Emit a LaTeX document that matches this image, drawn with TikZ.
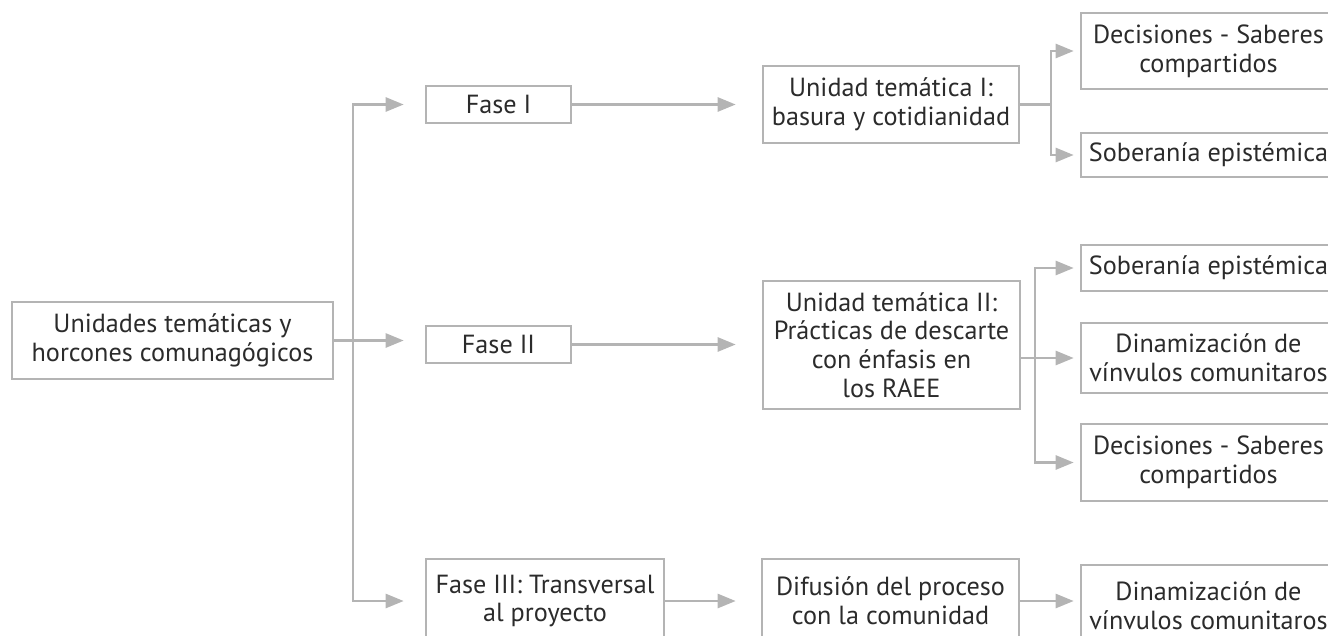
\documentclass[tikz,border=0pt]{standalone}
\usepackage{fontspec}
\setmainfont{PT Sans}
\usetikzlibrary{arrows.meta,calc}
\definecolor{lg}{HTML}{B4B4B4}
\definecolor{tx}{HTML}{2B2B2B}
\tikzset{
  box/.style={draw=lg, line width=2.6pt, text=tx, align=center, inner sep=0pt,
    font=\fontsize{26.2}{28.8}\selectfont},
  conn/.style={draw=lg, line width=2.6pt},
  arr/.style={conn, -{Triangle[length=18pt,width=14pt]}},
  arrs/.style={conn, {Triangle[length=18pt,width=14pt]}-{Triangle[length=18pt,width=14pt]}},
}
\begin{document}
\begin{tikzpicture}[x=1pt,y=-1pt]
\useasboundingbox (0,0) rectangle (1328,635);
\clip (0,0) rectangle (1328,635);
\node[box, minimum width=321pt, minimum height=77pt] (main) at (172.5,340.5) {Unidades temáticas y\\horcones comunagógicos};
\node[box, minimum width=145pt, minimum height=37pt] (fase1) at (498.5,104.5) {Fase I};
\node[box, minimum width=145pt, minimum height=37pt] (fase2) at (498.5,344.5) {Fase II};
\node[box, minimum width=238pt, minimum height=84pt] (fase3) at (545,601) {Fase III: Transversal\\al proyecto};
\node[box, minimum width=256pt, minimum height=77pt] (u1) at (891,104.5) {Unidad temática I:\\basura y cotidianidad};
\node[box, minimum width=257pt, minimum height=128pt] (u2) at (891.5,345) {Unidad temática II:\\Prácticas de descarte\\con énfasis en\\los RAEE};
\node[box, minimum width=257pt, minimum height=84pt] (dif) at (890.5,601) {Difusión del proceso\\con la comunidad};
\node[box, minimum width=255pt, minimum height=76pt] (d1) at (1208.5,51) {Decisiones - Saberes\\compartidos};
\node[box, minimum width=255pt, minimum height=44pt] (s1) at (1208.5,155) {Soberanía epistémica};
\node[box, minimum width=255pt, minimum height=46pt] (s2) at (1208.5,268) {Soberanía epistémica};
\node[box, minimum width=255pt, minimum height=70pt] (din2) at (1208.5,358) {Dinamización de\\vínvulos comunitaros};
\node[box, minimum width=255pt, minimum height=77pt] (d2) at (1208.5,462.5) {Decisiones - Saberes\\compartidos};
\node[box, minimum width=255pt, minimum height=82pt] (din3) at (1208.5,606) {Dinamización de\\vínvulos comunitaros};
\coordinate (vx) at (353,0);
\coordinate (b1) at (1051,0);
\coordinate (b2) at (1035,0);
% left tree
\draw[arr, shorten >=21pt] (main.east) -- (main.east -| fase2.west);
\draw[arrs, shorten <=21pt, shorten >=21pt] (fase1.west) -| (vx |- fase3.west) -- (fase3.west);
% phases to units
\draw[arr, shorten >=26pt] (fase1.east) -- (u1.west);
\draw[arr, shorten >=26pt] (fase2.east) -- (fase2.east -| u2.west);
\draw[arr, shorten >=25pt] (fase3.east) -- (dif.west);
% unit I branch
\draw[conn] (u1.east) -- (u1.east -| b1);
\draw[arrs, shorten <=6pt, shorten >=6pt] (d1.west) -| (b1 |- s1.west) -- (s1.west);
% unit II branch
\draw[arrs, shorten <=6pt, shorten >=6pt] (s2.west) -| (b2 |- d2.west) -- (d2.west);
\draw[arr, shorten >=6pt] (u2.east |- din2.west) -- (din2.west);
% difusion
\draw[arr, shorten >=6pt] (dif.east) -- (dif.east -| din3.west);
\end{tikzpicture}
\end{document}
